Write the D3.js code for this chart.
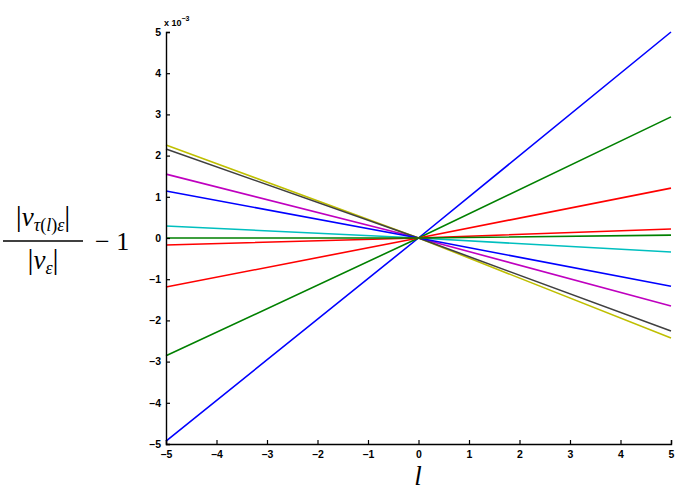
<!DOCTYPE html>
<html>
<head>
<meta charset="utf-8">
<script src="https://cdn.jsdelivr.net/npm/d3@7"></script>
<style>
  body { margin: 0; background: #fff; }
  svg text { font-family: "Liberation Sans", Arial, sans-serif; fill: #000; }
</style>
</head>
<body>
<div id="chart"></div>
<script>
// values in units of 1e-3, read at l = -5, 0, 5
var lValues = [-5, 0, 5];
var lineColors = ['#0000ff', '#008000', '#ff0000', '#00bfbf', '#bf00bf', '#bfbf00', '#404040', '#0000ff', '#ff0000', '#008000'];
var lineValues = [
    [-4.93, 0, 5.0],
    [-2.86, 0, 2.94],
    [-1.19, 0, 1.21],
    [0.29, 0, -0.34],
    [1.55, 0, -1.65],
    [2.26, 0, -2.43],
    [2.16, 0, -2.26],
    [1.14, 0, -1.17],
    [-0.17, 0, 0.22],
    [0.0, 0, 0.07]
];
var xTicks = [-5, -4, -3, -2, -1, 0, 1, 2, 3, 4, 5];
var yTicks = [-5, -4, -3, -2, -1, 0, 1, 2, 3, 4, 5];

(function(){
    var w = 676, h = 491,
        plotLeft = 166, plotRight = 671, plotTop = 32, plotBottom = 444;

    var svg = d3.select('#chart').append('svg')
        .attr('width', w)
        .attr('height', h);

    var x = d3.scaleLinear().domain([-5, 5]).range([plotLeft, plotRight]);
    var y = d3.scaleLinear().domain([-5, 5]).range([plotBottom, plotTop]);

    var line = d3.line()
        .x(function(d, i){ return x(lValues[i]); })
        .y(function(d){ return y(d); });

    svg.selectAll('path.series')
        .data(lineValues)
        .enter()
        .append('path')
        .attr('class', 'series')
        .attr('d', line)
        .attr('fill', 'none')
        .attr('stroke', function(d, i){ return lineColors[i]; })
        .attr('stroke-width', 1.6);

    var fmt = function(d){ return d < 0 ? '\u2013' + (-d) : d; };

    // axes, ticks pointing inward like matlab
    var xAxis = svg.append('g')
        .attr('transform', 'translate(0,' + plotBottom + ')')
        .call(d3.axisBottom(x).tickValues(xTicks).tickSize(-4).tickPadding(7).tickFormat(fmt));
    var yAxis = svg.append('g')
        .attr('transform', 'translate(' + plotLeft + ',0)')
        .call(d3.axisLeft(y).tickValues(yTicks).tickSize(-4).tickPadding(5).tickFormat(fmt));

    [xAxis, yAxis].forEach(function(g){
        g.select('.domain').attr('stroke', '#000').attr('stroke-width', 1.4);
        g.selectAll('.tick line').attr('stroke', '#000').attr('stroke-width', 1.2);
        g.selectAll('.tick text')
            .attr('fill', '#000')
            .style('font-size', '10.5px')
            .style('font-weight', 'bold');
    });

    // exponent label
    var expo = svg.append('text')
        .attr('x', 164)
        .attr('y', 26)
        .style('font-size', '9px')
        .style('font-weight', 'bold');
    expo.append('tspan').text('x 10');
    expo.append('tspan').attr('dy', -5).style('font-size', '7px').text('\u22123');

    var serif = '"Liberation Serif", "DejaVu Serif", serif';

    // x label
    svg.append('text')
        .attr('x', 418)
        .attr('y', 485)
        .attr('text-anchor', 'middle')
        .style('font-family', serif)
        .style('font-style', 'italic')
        .style('font-size', '27px')
        .text('l');

    // y label: |v_{tau(l) eps}| / |v_eps| - 1
    var num = svg.append('text')
        .attr('x', 43)
        .attr('y', 226)
        .attr('text-anchor', 'middle')
        .style('font-family', serif)
        .style('font-size', '30px');
    num.append('tspan').text('|');
    num.append('tspan').style('font-style', 'italic').style('font-size', '27px').text('v');
    num.append('tspan').attr('dy', 5).style('font-size', '18px').style('font-style', 'italic').text('\u03c4');
    num.append('tspan').style('font-size', '18px').text('(');
    num.append('tspan').style('font-size', '18px').style('font-style', 'italic').text('l');
    num.append('tspan').style('font-size', '18px').text(')');
    num.append('tspan').style('font-size', '18px').style('font-style', 'italic').text('\u03b5');
    num.append('tspan').attr('dy', -5).text('|');

    svg.append('line')
        .attr('x1', 3).attr('x2', 83)
        .attr('y1', 241).attr('y2', 241)
        .attr('stroke', '#000')
        .attr('stroke-width', 1.3);

    var den = svg.append('text')
        .attr('x', 43)
        .attr('y', 269)
        .attr('text-anchor', 'middle')
        .style('font-family', serif)
        .style('font-size', '30px');
    den.append('tspan').text('|');
    den.append('tspan').style('font-style', 'italic').style('font-size', '27px').text('v');
    den.append('tspan').attr('dy', 5).style('font-size', '18px').style('font-style', 'italic').text('\u03b5');
    den.append('tspan').attr('dy', -5).text('|');

    svg.append('text')
        .attr('x', 95)
        .attr('y', 250)
        .style('font-family', serif)
        .style('font-size', '26px')
        .text('\u2212 1');
})();
</script>
</body>
</html>
